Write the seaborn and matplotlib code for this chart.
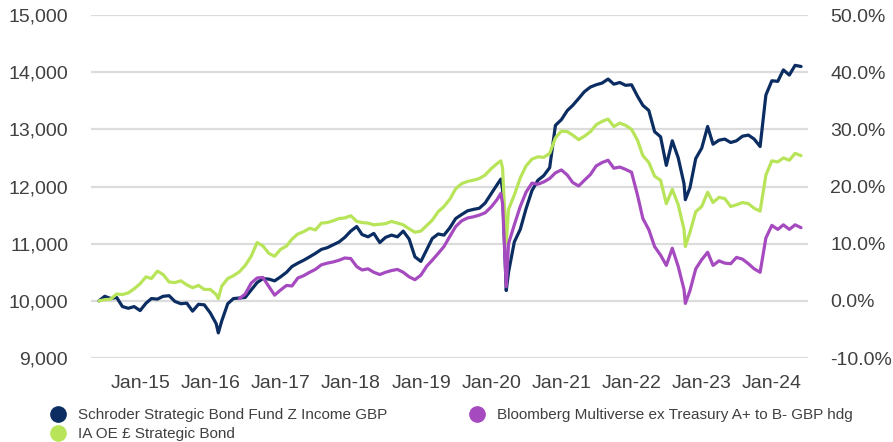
import pandas as pd
import seaborn as sns
import matplotlib.pyplot as plt
import matplotlib.ticker as mticker
import matplotlib.dates as mdates
from matplotlib.lines import Line2D

# month-end dates May 2014 - May 2024, plus a few extra dates around the sharp dips
extra_dates = ["2016-02-11", "2020-02-20", "2020-03-19", "2022-10-07"]
monthly = list(pd.date_range("2014-05-31", "2024-05-31", freq="ME"))
dates = sorted(monthly + [pd.Timestamp(d) for d in extra_dates])

# values (growth of 10,000), in date order incl. the extra dates
schroder = [
    10000, 10080, 10040, 10060, 9900, 9870, 9900, 9830,                     # 2014 May-Dec
    9960, 10040, 10030, 10080, 10090, 9990, 9950, 9960, 9820, 9940, 9930, 9790,   # 2015
    9600, 9440, 9650, 9950, 10040, 10050, 10060, 10190, 10320, 10390, 10380, 10350, 10420,  # 2016 (+Feb 11)
    10500, 10600, 10660, 10710, 10770, 10830, 10900, 10930, 10980, 11030, 11110, 11220,  # 2017
    11300, 11160, 11120, 11180, 11020, 11110, 11150, 11120, 11220, 11080, 10770, 10690,  # 2018
    10900, 11090, 11170, 11150, 11280, 11440, 11510, 11575, 11600, 11620, 11710, 11870,  # 2019
    12030, 12130, 11950, 10180, 10500, 11030, 11250, 11610, 11930, 12110, 12190, 12330, 13070, 13170,  # 2020 (+Feb 20, Mar 19)
    13330, 13420, 13540, 13660, 13740, 13780, 13810, 13880, 13790, 13820, 13770, 13780,  # 2021
    13580, 13420, 13330, 12960, 12870, 12370, 12800, 12500, 12050, 11770, 11980, 12490, 12670,  # 2022 (+Oct 7)
    13050, 12740, 12810, 12830, 12770, 12800, 12880, 12900, 12830, 12700, 13600, 13850,  # 2023
    13840, 14040, 13950, 14120, 14100,                                       # 2024 Jan-May
]
ia_strategic = [
    10000, 10020, 10030, 10120, 10110, 10140, 10210, 10300,
    10420, 10390, 10520, 10460, 10330, 10320, 10350, 10280, 10230, 10270, 10200, 10200,
    10110, 10040, 10260, 10390, 10440, 10510, 10620, 10780, 11020, 10960, 10830, 10780, 10900,
    10960, 11080, 11170, 11210, 11270, 11240, 11360, 11370, 11400, 11440, 11450, 11490,
    11390, 11370, 11360, 11330, 11340, 11350, 11390, 11360, 11330, 11260, 11200, 11220,
    11320, 11410, 11560, 11650, 11780, 11960, 12050, 12090, 12110, 12140, 12200, 12310,
    12400, 12450, 12320, 11010, 11600, 11850, 12150, 12360, 12480, 12520, 12510, 12580, 12850, 12970,
    12960, 12900, 12820, 12880, 12960, 13080, 13140, 13180, 13050, 13110, 13070, 13000,
    12810, 12540, 12420, 12180, 12110, 11700, 11950, 11680, 11250, 10950, 11200, 11560, 11650,
    11900, 11720, 11810, 11790, 11650, 11680, 11720, 11700, 11620, 11570, 12200, 12450,
    12430, 12500, 12460, 12580, 12540,
]
nan = float("nan")
bloomberg = [
    nan, nan, nan, nan, nan, nan, nan, nan,
    nan, nan, nan, nan, nan, nan, nan, nan, nan, nan, nan, nan,
    nan, nan, nan, nan, nan, 10040, 10120, 10310, 10400, 10410, 10250, 10100, 10190,
    10270, 10260, 10400, 10440, 10500, 10550, 10630, 10660, 10680, 10710, 10750, 10740,
    10600, 10540, 10560, 10500, 10460, 10500, 10530, 10550, 10500, 10420, 10370, 10450,
    10610, 10710, 10830, 10950, 11130, 11300, 11400, 11450, 11470, 11500, 11540, 11640,
    11770, 11880, 11700, 10250, 11000, 11330, 11650, 11900, 12060, 12040, 12080, 12140, 12240, 12290,
    12200, 12070, 12010, 12110, 12210, 12360, 12420, 12460, 12320, 12340, 12300, 12250,
    11850, 11440, 11245, 10950, 10800, 10620, 10920, 10600, 10200, 9955, 10180, 10560, 10720,
    10850, 10620, 10700, 10660, 10650, 10760, 10730, 10650, 10560, 10500, 11100, 11320,
    11250, 11330, 11250, 11330, 11280,
]

names = ["Schroder Strategic Bond Fund Z Income GBP",
         "IA OE £ Strategic Bond",
         "Bloomberg Multiverse ex Treasury A+ to B- GBP hdg"]
colors = ["#0b2d62", "#b8e45a", "#a64ac0"]

df = pd.concat([
    pd.DataFrame({"date": dates, "value": vals, "series": name})
    for name, vals in zip(names, [schroder, ia_strategic, bloomberg])
], ignore_index=True)

sns.set_theme(style="white")
plt.rcParams["font.family"] = ["Liberation Sans", "DejaVu Sans"]
text_col = "#404040"

fig = plt.figure(figsize=(8.93, 4.42), dpi=100)
ax = fig.add_axes([0.102, 0.190, 0.803, 0.776])

sns.lineplot(data=df, x="date", y="value", hue="series", hue_order=names,
             palette=colors, linewidth=2.3, legend=False, ax=ax)

ax.set_ylim(9000, 15000)
ax.set_yticks(range(9000, 15001, 1000))
ax.yaxis.set_major_formatter(mticker.FuncFormatter(lambda v, p: f"{v:,.0f}"))
ax.set_xlim(pd.Timestamp("2014-04-20"), pd.Timestamp("2024-07-07"))
ax.set_xticks([pd.Timestamp(f"{y}-01-01") for y in range(2015, 2025)])
ax.xaxis.set_major_formatter(mdates.DateFormatter("%b-%y"))
ax.grid(axis="y", color="#dcdcdc", linewidth=1.6)
ax.set_axisbelow(True)
ax.set_xlabel("")
ax.set_ylabel("")
ax.tick_params(axis="both", length=0, labelsize=14, labelcolor=text_col)
ax.tick_params(axis="y", pad=16.5)
ax.tick_params(axis="x", pad=12)
for s in ax.spines.values():
    s.set_visible(False)

ax2 = ax.twinx()
ax2.set_ylim(-0.1, 0.5)
ax2.set_yticks([-0.1, 0.0, 0.1, 0.2, 0.3, 0.4, 0.5])
ax2.yaxis.set_major_formatter(mticker.FuncFormatter(lambda v, p: f"{v * 100:.1f}%"))
ax2.tick_params(axis="y", length=0, labelsize=14, labelcolor=text_col, pad=16)
for s in ax2.spines.values():
    s.set_visible(False)

handles = [Line2D([], [], linestyle="none", marker="o", markersize=11,
                  markerfacecolor=c, markeredgecolor=c) for c in colors]
fig.legend(handles, names, loc="upper left", bbox_to_anchor=(0.056, 0.077),
           ncol=2, frameon=False, fontsize=11, labelcolor=text_col,
           handlelength=1.0, handletextpad=0.8, columnspacing=5.4,
           labelspacing=0.32, borderpad=0, borderaxespad=0)

fig.savefig("out.png", dpi=100)
